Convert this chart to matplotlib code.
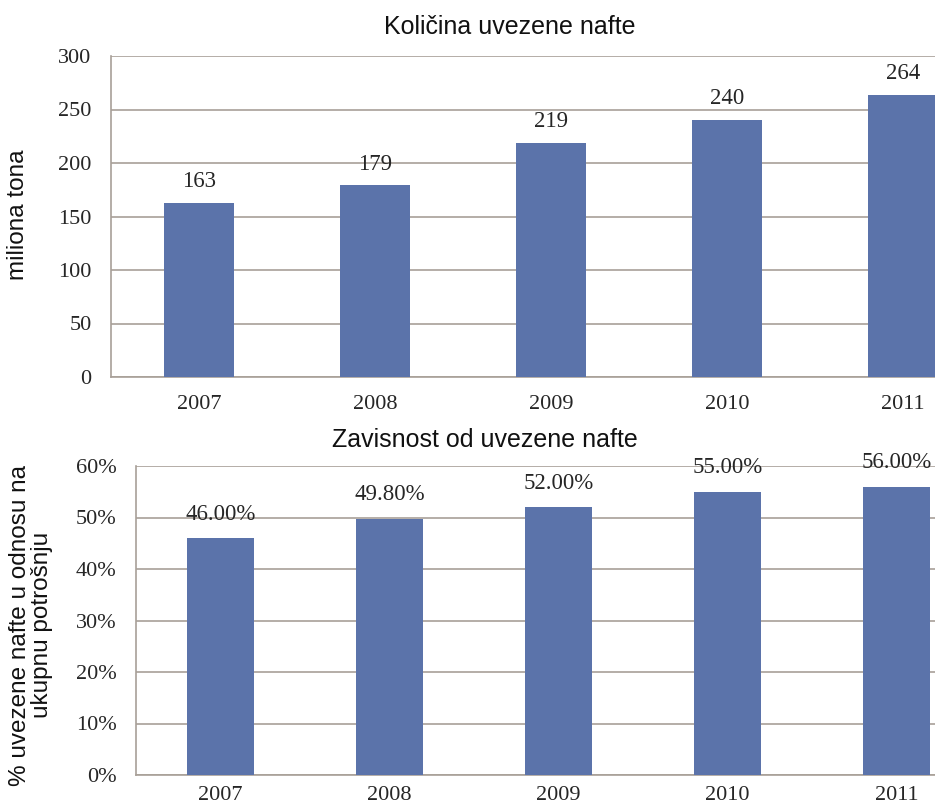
import matplotlib
matplotlib.use("Agg")
import matplotlib.pyplot as plt

godine = ["2007", "2008", "2009", "2010", "2011"]
uvoz = [163, 179, 219, 240, 264]
zavisnost = [46.0, 49.8, 52.0, 55.0, 56.0]
uvoz_ticks = [0, 50, 100, 150, 200, 250, 300]
zav_ticks = [0, 10, 20, 30, 40, 50, 60]

bar_color = "#5b73aa"
grid_color = "#a8a098"
text_color = "#262626"
serif = "Liberation Serif"
sans = "Liberation Sans"

W, H = 935, 809
fig = plt.figure(figsize=(W / 100, H / 100), dpi=100)

# gornji grafikon
ax1 = fig.add_axes([111 / W, 1 - 377 / H, 1 - 111 / W, (377 - 56) / H])
x = range(len(godine))
bars = ax1.bar(x, uvoz, width=0.4, color=bar_color, zorder=3)
for b, v in zip(bars, uvoz):
    ax1.text(b.get_x() + b.get_width() / 2, v + 10, str(v), ha="center", va="bottom",
             fontsize=16.5, family=serif, color=text_color)
ax1.set_ylim(0, 300)
ax1.set_xlim(-0.5, (W - 111) / 176 - 0.5)
ax1.set_yticks(uvoz_ticks)
ax1.set_xticks(list(x))
ax1.set_xticklabels(godine)
fig.text(510 / W, 1 - 27 / H, "Količina uvezene nafte", fontsize=18, family=sans,
         ha="center", va="center", color="#111111")
fig.text(18 / W, 1 - 215 / H, "miliona tona", fontsize=17.5, family=sans, rotation=90,
         ha="center", va="center", color="#111111")

# donji grafikon
ax2 = fig.add_axes([136 / W, 1 - 775 / H, 1 - 136 / W, (775 - 466) / H])
bars2 = ax2.bar(x, zavisnost, width=0.4, color=bar_color, zorder=3)
for b, v in zip(bars2, zavisnost):
    ax2.text(b.get_x() + b.get_width() / 2, v + 2.6, f"{v:.2f}%", ha="center", va="bottom",
             fontsize=16.5, family=serif, color=text_color, zorder=2)
ax2.set_ylim(0, 60)
ax2.set_xlim(-0.5, (W - 136) / 169 - 0.5)
ax2.set_yticks(zav_ticks)
ax2.set_yticklabels([f"{t}%" for t in zav_ticks])
ax2.set_xticks(list(x))
ax2.set_xticklabels(godine)
fig.text(485 / W, 1 - 440 / H, "Zavisnost od uvezene nafte", fontsize=18, family=sans,
         ha="center", va="center", color="#111111")
fig.text(31 / W, 1 - 625 / H, "% uvezene nafte u odnosu na\nukupnu potrošnju", fontsize=17.5,
         family=sans, rotation=90, ha="center", va="center", linespacing=1.0,
         multialignment="center", color="#111111")

for ax in (ax1, ax2):
    ax.grid(axis="y", color=grid_color, linewidth=1.2, zorder=1)
    for s in ("top", "right"):
        ax.spines[s].set_visible(False)
    ax.spines["left"].set_color(grid_color)
    ax.spines["bottom"].set_color(grid_color)
    ax.spines["left"].set_linewidth(1.2)
    ax.spines["bottom"].set_linewidth(1.2)
    ax.tick_params(length=0, labelsize=16, labelcolor=text_color)
    ax.tick_params(axis="y", pad=14)
    for lbl in ax.get_xticklabels() + ax.get_yticklabels():
        lbl.set_family(serif)

ax1.tick_params(axis="x", pad=13)
ax2.tick_params(axis="x", pad=8)

fig.savefig("out.png", dpi=100)
